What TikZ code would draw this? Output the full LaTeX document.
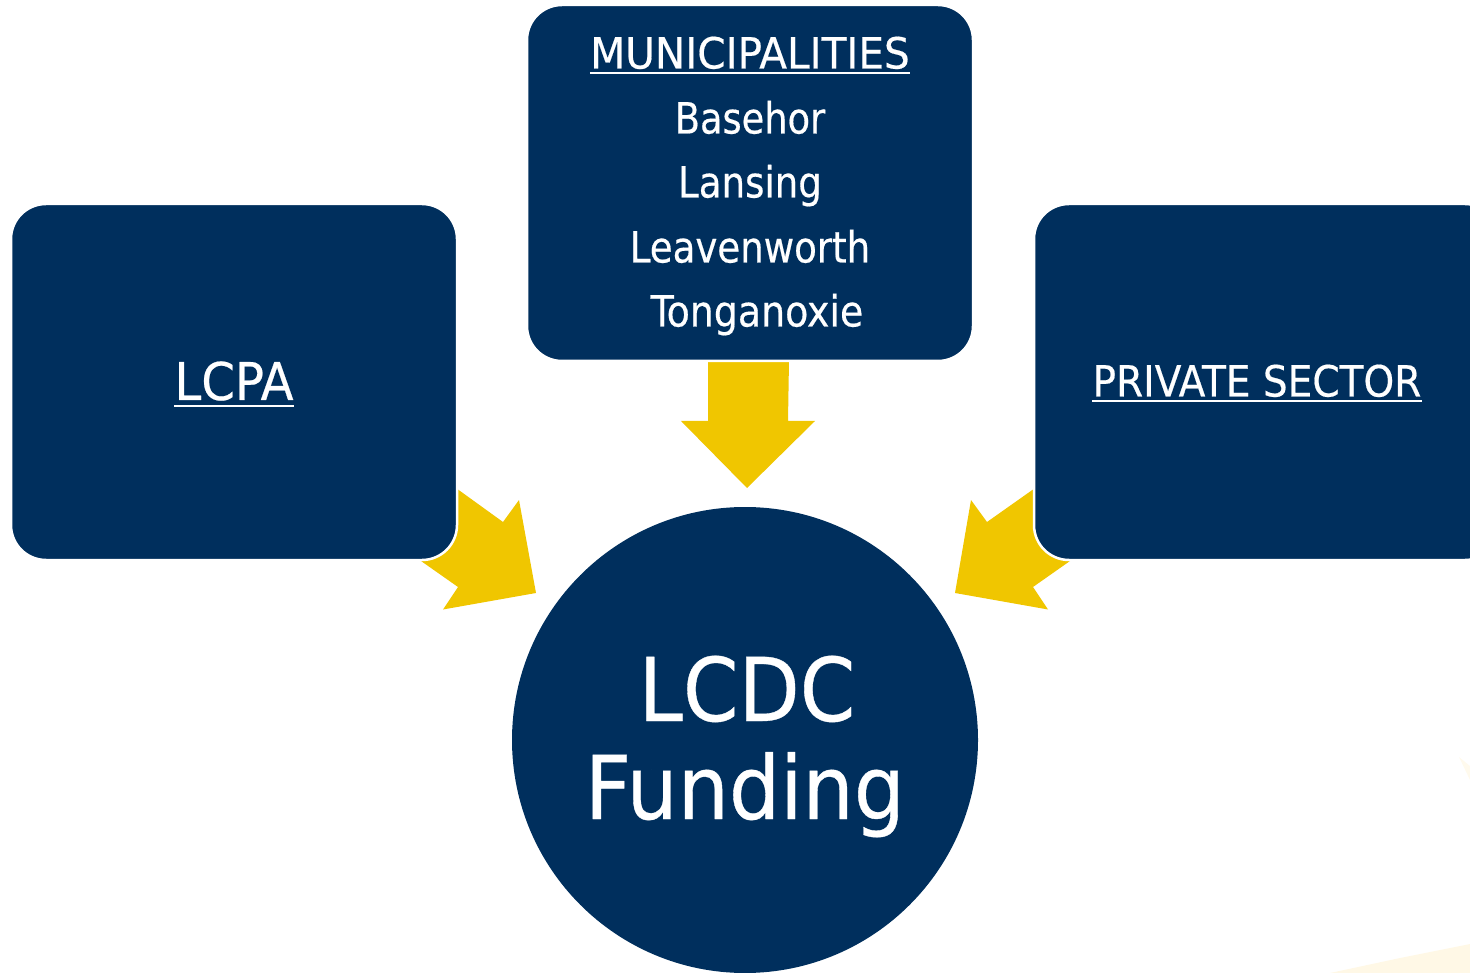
\documentclass[tikz,border=0pt]{standalone}
\usepackage{fontspec}
\setmainfont[FakeBold=0.4]{DejaVu Sans Condensed}
\definecolor{navy}{HTML}{002F5D}
\definecolor{gold}{HTML}{F0C600}
\definecolor{cream}{HTML}{FFF8E6}
\tikzset{
  boxnode/.style={fill=navy,draw=white,line width=2.5pt,rounded corners=35pt},
  arrowshape/.style={fill=gold,draw=none},
  label/.style={text=white,inner sep=0pt,anchor=base},
  uline/.style={draw=white,line width=2.4pt},
}
\newcommand{\sx}[2]{\scalebox{#1}[1]{#2}}
\begin{document}
\begin{tikzpicture}[x=1pt,y=-1pt]
\useasboundingbox (0,0) rectangle (1470,973);
\clip (0,0) rectangle (1470,973);
\fill[cream] (1330,973) -- (1400,958) -- (1470,944) -- (1470,973) -- cycle;
\fill[cream!70] (1459,757) -- (1470,766) -- (1470,780) -- cycle;
% arrows
\fill[arrowshape] (458,489.5) -- (503,522) -- (519,500) -- (536,593) -- (443,609.5) -- (458,587) -- (421,561) -- (440,530) -- cycle;
\fill[arrowshape] (1033,489.5) -- (987,522) -- (971,500) -- (955,593) -- (1048,609.5) -- (1033,587) -- (1070,561) -- (1050,530) -- cycle;
\fill[arrowshape] (708,360) -- (789,360) -- (788,421) -- (815,421) -- (747,488) -- (681,421) -- (708,421) -- cycle;
% boxes
\draw[boxnode] (11,204) rectangle (457,560);
\draw[boxnode] (527,5) rectangle (973,361);
\draw[boxnode] (1034,204) rectangle (1500,560);
\fill[navy] (745,740) circle (233);
% text
\node[label,font=\fontsize{52}{52}\selectfont] (lcpa) at (234,400) {\sx{1.03}{LCPA}};
\node[label,font=\fontsize{43}{43}\selectfont] (muni) at (750,68.5) {\sx{1.05}{MUNICIPALITIES}};
\node[label,font=\fontsize{43}{43}\selectfont] (a) at (750,133.5) {\sx{0.95}{Basehor}};
\node[label,font=\fontsize{43}{43}\selectfont] (b) at (750,197.5) {\sx{0.96}{Lansing}};
\node[label,font=\fontsize{43}{43}\selectfont] (c) at (750,262.5) {\sx{0.96}{Leavenworth}};
\node[label,font=\fontsize{43}{43}\selectfont] (d) at (757,326.5) {\sx{0.98}{Tonganoxie}};
\node[label,font=\fontsize{43}{43}\selectfont] (p) at (1257,396.5) {\sx{1.01}{PRIVATE SECTOR}};
\node[label,font=\fontsize{88}{88}\selectfont] (e) at (747,721) {\sx{1.005}{LCDC}};
\node[label,font=\fontsize{88}{88}\selectfont] (f) at (745,819) {\sx{1.02}{Funding}};
\draw[uline] ([yshift=-6pt]lcpa.base west) -- ([yshift=-6pt]lcpa.base east);
\draw[uline] ([yshift=-4.3pt]muni.base west) -- ([yshift=-4.3pt]muni.base east);
\draw[uline] ([yshift=-4.3pt]p.base west) -- ([yshift=-4.3pt]p.base east);
\end{tikzpicture}
\end{document}
